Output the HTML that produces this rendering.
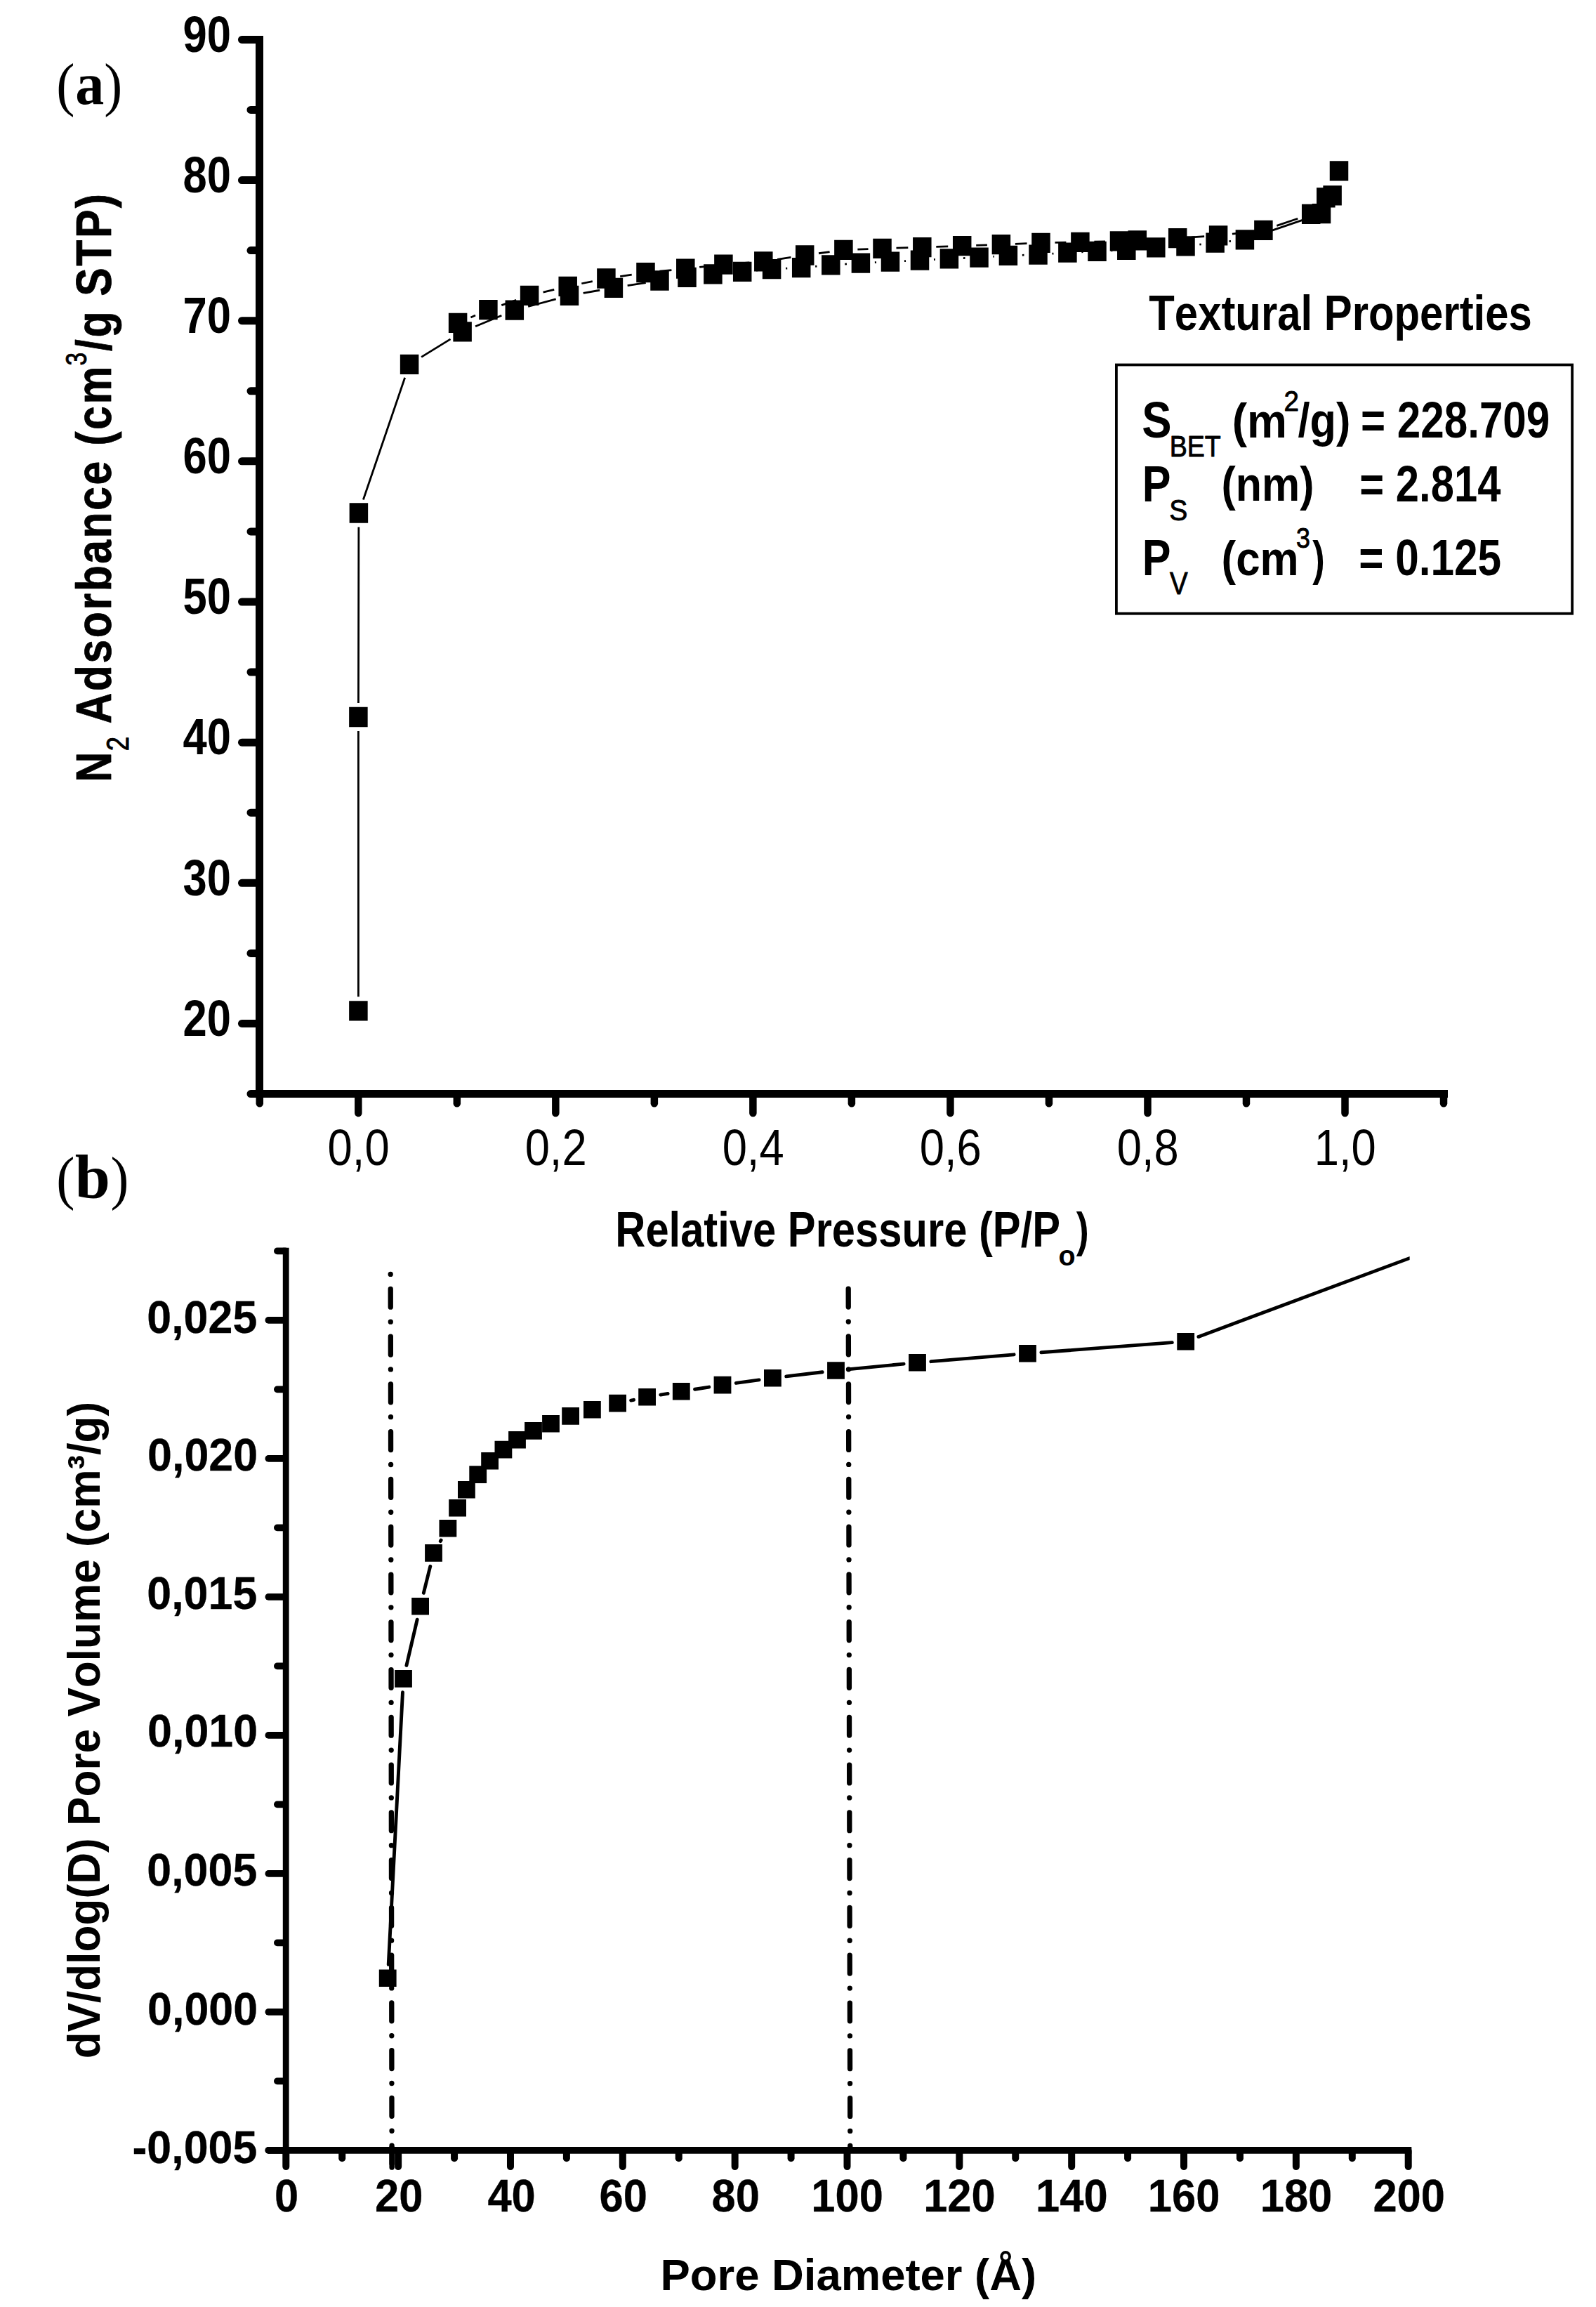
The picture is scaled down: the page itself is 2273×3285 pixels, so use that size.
<!DOCTYPE html>
<html lang="en"><head><meta charset="utf-8"><title>N2 adsorption isotherm and pore size distribution</title>
<style>html,body{margin:0;padding:0;background:#fff}svg text{fill:#000;font-kerning:none;font-variant-ligatures:none}</style></head>
<body>
<svg width="2273" height="3285" viewBox="0 0 2273 3285" style="display:block">
<rect width="2273" height="3285" fill="#fff"/>
<g id="panel-a">
<line x1="369.50" y1="50.90" x2="369.50" y2="1563.10" stroke="#000" stroke-width="11" stroke-linecap="butt"/>
<line x1="364.00" y1="1557.60" x2="2062.00" y2="1557.60" stroke="#000" stroke-width="11" stroke-linecap="butt"/>
<line x1="344.50" y1="1457.45" x2="368.50" y2="1457.45" stroke="#000" stroke-width="11" stroke-linecap="round"/>
<line x1="344.50" y1="1257.30" x2="368.50" y2="1257.30" stroke="#000" stroke-width="11" stroke-linecap="round"/>
<line x1="344.50" y1="1057.15" x2="368.50" y2="1057.15" stroke="#000" stroke-width="11" stroke-linecap="round"/>
<line x1="344.50" y1="857.00" x2="368.50" y2="857.00" stroke="#000" stroke-width="11" stroke-linecap="round"/>
<line x1="344.50" y1="656.85" x2="368.50" y2="656.85" stroke="#000" stroke-width="11" stroke-linecap="round"/>
<line x1="344.50" y1="456.70" x2="368.50" y2="456.70" stroke="#000" stroke-width="11" stroke-linecap="round"/>
<line x1="344.50" y1="256.55" x2="368.50" y2="256.55" stroke="#000" stroke-width="11" stroke-linecap="round"/>
<line x1="344.50" y1="56.40" x2="368.50" y2="56.40" stroke="#000" stroke-width="11" stroke-linecap="round"/>
<line x1="357.00" y1="1557.53" x2="368.50" y2="1557.53" stroke="#000" stroke-width="11" stroke-linecap="round"/>
<line x1="357.00" y1="1357.38" x2="368.50" y2="1357.38" stroke="#000" stroke-width="11" stroke-linecap="round"/>
<line x1="357.00" y1="1157.23" x2="368.50" y2="1157.23" stroke="#000" stroke-width="11" stroke-linecap="round"/>
<line x1="357.00" y1="957.08" x2="368.50" y2="957.08" stroke="#000" stroke-width="11" stroke-linecap="round"/>
<line x1="357.00" y1="756.92" x2="368.50" y2="756.92" stroke="#000" stroke-width="11" stroke-linecap="round"/>
<line x1="357.00" y1="556.77" x2="368.50" y2="556.77" stroke="#000" stroke-width="11" stroke-linecap="round"/>
<line x1="357.00" y1="356.62" x2="368.50" y2="356.62" stroke="#000" stroke-width="11" stroke-linecap="round"/>
<line x1="357.00" y1="156.47" x2="368.50" y2="156.47" stroke="#000" stroke-width="11" stroke-linecap="round"/>
<line x1="510.30" y1="1558.60" x2="510.30" y2="1585.00" stroke="#000" stroke-width="10.5" stroke-linecap="round"/>
<line x1="791.34" y1="1558.60" x2="791.34" y2="1585.00" stroke="#000" stroke-width="10.5" stroke-linecap="round"/>
<line x1="1072.38" y1="1558.60" x2="1072.38" y2="1585.00" stroke="#000" stroke-width="10.5" stroke-linecap="round"/>
<line x1="1353.42" y1="1558.60" x2="1353.42" y2="1585.00" stroke="#000" stroke-width="10.5" stroke-linecap="round"/>
<line x1="1634.46" y1="1558.60" x2="1634.46" y2="1585.00" stroke="#000" stroke-width="10.5" stroke-linecap="round"/>
<line x1="1915.50" y1="1558.60" x2="1915.50" y2="1585.00" stroke="#000" stroke-width="10.5" stroke-linecap="round"/>
<line x1="369.78" y1="1558.60" x2="369.78" y2="1571.30" stroke="#000" stroke-width="10.5" stroke-linecap="round"/>
<line x1="650.82" y1="1558.60" x2="650.82" y2="1571.30" stroke="#000" stroke-width="10.5" stroke-linecap="round"/>
<line x1="931.86" y1="1558.60" x2="931.86" y2="1571.30" stroke="#000" stroke-width="10.5" stroke-linecap="round"/>
<line x1="1212.90" y1="1558.60" x2="1212.90" y2="1571.30" stroke="#000" stroke-width="10.5" stroke-linecap="round"/>
<line x1="1493.94" y1="1558.60" x2="1493.94" y2="1571.30" stroke="#000" stroke-width="10.5" stroke-linecap="round"/>
<line x1="1774.98" y1="1558.60" x2="1774.98" y2="1571.30" stroke="#000" stroke-width="10.5" stroke-linecap="round"/>
<line x1="2056.02" y1="1558.60" x2="2056.02" y2="1571.30" stroke="#000" stroke-width="10.5" stroke-linecap="round"/>
<text transform="translate(260.45,1474.73) scale(0.8538,1)" font-size="72.08" font-weight="bold" font-family='"Liberation Sans", Arial, sans-serif'>20</text>
<text transform="translate(260.45,1274.58) scale(0.8538,1)" font-size="72.08" font-weight="bold" font-family='"Liberation Sans", Arial, sans-serif'>30</text>
<text transform="translate(260.45,1074.43) scale(0.8538,1)" font-size="72.08" font-weight="bold" font-family='"Liberation Sans", Arial, sans-serif'>40</text>
<text transform="translate(260.45,874.28) scale(0.8538,1)" font-size="72.08" font-weight="bold" font-family='"Liberation Sans", Arial, sans-serif'>50</text>
<text transform="translate(260.45,674.13) scale(0.8538,1)" font-size="72.08" font-weight="bold" font-family='"Liberation Sans", Arial, sans-serif'>60</text>
<text transform="translate(260.45,473.98) scale(0.8538,1)" font-size="72.08" font-weight="bold" font-family='"Liberation Sans", Arial, sans-serif'>70</text>
<text transform="translate(260.45,273.83) scale(0.8538,1)" font-size="72.08" font-weight="bold" font-family='"Liberation Sans", Arial, sans-serif'>80</text>
<text transform="translate(260.45,73.68) scale(0.8538,1)" font-size="72.08" font-weight="bold" font-family='"Liberation Sans", Arial, sans-serif'>90</text>
<text transform="translate(466.59,1658.60) scale(0.8732,1)" font-size="72.51" font-weight="normal" font-family='"Liberation Sans", Arial, sans-serif'>0,0</text>
<text transform="translate(747.63,1658.60) scale(0.8732,1)" font-size="72.51" font-weight="normal" font-family='"Liberation Sans", Arial, sans-serif'>0,2</text>
<text transform="translate(1028.67,1658.60) scale(0.8732,1)" font-size="72.51" font-weight="normal" font-family='"Liberation Sans", Arial, sans-serif'>0,4</text>
<text transform="translate(1309.71,1658.60) scale(0.8732,1)" font-size="72.51" font-weight="normal" font-family='"Liberation Sans", Arial, sans-serif'>0,6</text>
<text transform="translate(1590.75,1658.60) scale(0.8732,1)" font-size="72.51" font-weight="normal" font-family='"Liberation Sans", Arial, sans-serif'>0,8</text>
<text transform="translate(1871.79,1658.60) scale(0.8732,1)" font-size="72.51" font-weight="normal" font-family='"Liberation Sans", Arial, sans-serif'>1,0</text>
<text transform="translate(876.27,1774.90) scale(0.8551,1)" font-size="69.83" font-weight="bold" font-family='"Liberation Sans", Arial, sans-serif'>Relative Pressure (P/P</text>
<text transform="translate(1507.42,1801.69) scale(0.9726,1)" font-size="40.55" font-weight="bold" font-family='"Liberation Sans", Arial, sans-serif'>o</text>
<text transform="translate(1532.87,1774.74) scale(0.7845,1)" font-size="68.74" font-weight="bold" font-family='"Liberation Sans", Arial, sans-serif'>)</text>
<text transform="translate(157.80,1113.81) rotate(-90) scale(0.8524,1)" font-size="69.69" font-weight="bold" font-family='"Liberation Sans", Arial, sans-serif' stroke="#000" stroke-width="0.8" stroke-linejoin="round">N</text>
<text transform="translate(182.70,1069.14) rotate(-90) scale(0.8285,1)" font-size="44.30" font-weight="normal" font-family='"Liberation Sans", Arial, sans-serif' stroke="#000" stroke-width="0.9" stroke-linejoin="round">2</text>
<text transform="translate(157.80,1030.52) rotate(-90) scale(0.8700,1)" font-size="69.69" font-weight="bold" font-family='"Liberation Sans", Arial, sans-serif' stroke="#000" stroke-width="0.8" stroke-linejoin="round" letter-spacing="2.997">Adsorbance (cm</text>
<text transform="translate(123.38,520.46) rotate(-90) scale(0.7921,1)" font-size="42.26" font-weight="normal" font-family='"Liberation Sans", Arial, sans-serif' stroke="#000" stroke-width="0.9" stroke-linejoin="round">3</text>
<text transform="translate(157.80,499.91) rotate(-90) scale(0.8700,1)" font-size="69.69" font-weight="bold" font-family='"Liberation Sans", Arial, sans-serif' stroke="#000" stroke-width="0.8" stroke-linejoin="round" letter-spacing="2.904">/g STP)</text>
<text transform="translate(80.25,148.90) scale(0.9254,1)" font-size="85.18" font-weight="normal" font-family='"Liberation Serif", "Times New Roman", serif'>(</text>
<text transform="translate(107.13,148.16) scale(0.9816,1)" font-size="83.75" font-weight="bold" font-family='"Liberation Serif", "Times New Roman", serif'>a</text>
<text transform="translate(148.36,148.90) scale(0.9164,1)" font-size="85.18" font-weight="normal" font-family='"Liberation Serif", "Times New Roman", serif'>)</text>
<path d="M510.40,1419.30L510.40,1041.00M510.43,1001.00L510.87,750.50M517.36,711.57L576.64,537.73M600.14,508.33L641.56,482.87M677.07,464.73L714.33,449.27M752.13,436.46L791.67,425.94M830.70,417.35L854.20,413.25M893.66,406.70L919.74,402.60M1035.33,388.68L1037.27,388.52M1077.12,385.04L1079.18,384.86M1119.08,382.15L1121.22,382.05M1161.12,379.30L1163.38,379.10M1203.26,376.03L1205.94,375.87M1245.88,373.65L1248.02,373.55M1287.98,371.65L1290.02,371.55M1329.97,369.55L1331.93,369.45M1371.88,367.56L1374.52,367.44M1414.46,365.30L1415.94,365.20M1455.89,363.29L1458.51,363.21M1498.45,361.17L1500.45,361.03M1540.38,358.75L1542.52,358.65M1582.48,356.84L1584.32,356.76M1624.23,354.19L1626.37,354.01M1666.28,351.45L1668.52,351.35M1708.38,348.18L1710.72,347.92M1750.50,343.68L1753.00,343.42M1791.83,334.95L1863.07,310.65" stroke="#000" stroke-width="2.8" stroke-linecap="butt" fill="none"/>
<path d="M1848.26,311.23L1818.34,321.37M1779.54,330.15L1754.96,333.05M1715.14,336.68L1697.16,337.82M1657.23,340.21L1639.77,341.19M1574.01,343.84L1558.39,344.26M1518.40,345.16L1502.50,345.44M1462.52,346.61L1445.88,347.29M1405.91,348.82L1390.19,349.38M1350.21,350.80L1333.29,351.40M1293.31,352.70L1276.49,353.20M1236.51,354.53L1221.39,355.07M1181.59,358.56L1166.01,360.74M1126.42,366.46L1107.08,369.34M1067.36,373.81L1050.34,375.09M1010.52,378.80L996.18,380.40M956.40,384.56L939.40,386.24M899.72,391.13L883.18,393.57M843.81,400.55L828.29,403.75M789.24,412.43L773.56,416.17M735.20,427.34L714.30,434.56M677.05,449.07L670.45,451.93" stroke="#000" stroke-width="2.8" stroke-linecap="butt" fill="none"/>
<path d="M497.15,1425.15h26.5v28.3h-26.5zM497.15,1006.85h26.5v28.3h-26.5zM497.65,716.35h26.5v28.3h-26.5zM569.85,504.65h26.5v28.3h-26.5zM645.35,458.25h26.5v28.3h-26.5zM719.55,427.45h26.5v28.3h-26.5zM797.75,406.65h26.5v28.3h-26.5zM860.65,395.65h26.5v28.3h-26.5zM926.25,385.35h26.5v28.3h-26.5zM965.25,380.75h26.5v28.3h-26.5zM1002.15,376.25h26.5v28.3h-26.5zM1043.95,372.65h26.5v28.3h-26.5zM1085.85,368.95h26.5v28.3h-26.5zM1127.95,366.95h26.5v28.3h-26.5zM1170.05,363.15h26.5v28.3h-26.5zM1212.65,360.45h26.5v28.3h-26.5zM1254.75,358.45h26.5v28.3h-26.5zM1296.75,356.45h26.5v28.3h-26.5zM1338.65,354.25h26.5v28.3h-26.5zM1381.25,352.45h26.5v28.3h-26.5zM1422.65,349.75h26.5v28.3h-26.5zM1465.25,348.45h26.5v28.3h-26.5zM1507.15,345.45h26.5v28.3h-26.5zM1549.25,343.65h26.5v28.3h-26.5zM1591.05,341.65h26.5v28.3h-26.5zM1633.05,338.25h26.5v28.3h-26.5zM1675.25,336.25h26.5v28.3h-26.5zM1717.35,331.55h26.5v28.3h-26.5zM1759.65,327.25h26.5v28.3h-26.5zM1868.75,290.05h26.5v28.3h-26.5zM1884.35,264.25h26.5v28.3h-26.5zM1893.75,229.25h26.5v28.3h-26.5zM1875.05,267.25h26.5v28.3h-26.5zM1853.95,290.65h26.5v28.3h-26.5zM1786.15,313.65h26.5v28.3h-26.5zM1721.85,321.25h26.5v28.3h-26.5zM1663.95,324.95h26.5v28.3h-26.5zM1606.55,328.15h26.5v28.3h-26.5zM1580.75,329.15h26.5v28.3h-26.5zM1525.15,330.65h26.5v28.3h-26.5zM1469.25,331.65h26.5v28.3h-26.5zM1412.65,333.95h26.5v28.3h-26.5zM1356.95,335.95h26.5v28.3h-26.5zM1300.05,337.95h26.5v28.3h-26.5zM1243.25,339.65h26.5v28.3h-26.5zM1188.15,341.65h26.5v28.3h-26.5zM1132.95,349.35h26.5v28.3h-26.5zM1074.05,358.15h26.5v28.3h-26.5zM1017.15,362.45h26.5v28.3h-26.5zM963.05,368.45h26.5v28.3h-26.5zM906.25,374.05h26.5v28.3h-26.5zM850.15,382.35h26.5v28.3h-26.5zM795.45,393.65h26.5v28.3h-26.5zM740.85,406.65h26.5v28.3h-26.5zM682.15,426.95h26.5v28.3h-26.5zM638.85,445.75h26.5v28.3h-26.5z" fill="#000"/>
<text transform="translate(1636.30,469.90) scale(0.8538,1)" font-size="70.11" font-weight="bold" font-family='"Liberation Sans", Arial, sans-serif'>Textural Properties</text>
<rect x="1589.9" y="519.5" width="649.2" height="354.2" fill="none" stroke="#000" stroke-width="3.8"/>
<text transform="translate(1626.30,623.18) scale(0.8765,1)" font-size="72.37" font-weight="bold" font-family='"Liberation Sans", Arial, sans-serif'>S</text>
<text transform="translate(1665.70,649.80) scale(0.8706,1)" font-size="43.20" font-weight="normal" font-family='"Liberation Sans", Arial, sans-serif' stroke="#000" stroke-width="0.9" stroke-linejoin="round">BET</text>
<text transform="translate(1754.70,622.69) scale(0.9289,1)" font-size="68.95" font-weight="bold" font-family='"Liberation Sans", Arial, sans-serif'>(m</text>
<text transform="translate(1828.57,585.10) scale(0.9567,1)" font-size="40.43" font-weight="normal" font-family='"Liberation Sans", Arial, sans-serif' stroke="#000" stroke-width="0.9" stroke-linejoin="round">2</text>
<text transform="translate(1848.59,622.43) scale(0.8937,1)" font-size="68.59" font-weight="bold" font-family='"Liberation Sans", Arial, sans-serif'>/g)</text>
<text transform="translate(1937.94,623.18) scale(0.8315,1)" font-size="72.37" font-weight="bold" font-family='"Liberation Sans", Arial, sans-serif'>= 228.709</text>
<text transform="translate(1626.78,714.10) scale(0.8396,1)" font-size="72.73" font-weight="bold" font-family='"Liberation Sans", Arial, sans-serif'>P</text>
<text transform="translate(1665.24,740.98) scale(0.9228,1)" font-size="42.40" font-weight="normal" font-family='"Liberation Sans", Arial, sans-serif' stroke="#000" stroke-width="0.9" stroke-linejoin="round">S</text>
<text transform="translate(1739.55,713.44) scale(0.8862,1)" font-size="68.74" font-weight="bold" font-family='"Liberation Sans", Arial, sans-serif'>(nm)</text>
<text transform="translate(1936.36,714.08) scale(0.8339,1)" font-size="71.66" font-weight="bold" font-family='"Liberation Sans", Arial, sans-serif'>= 2.814</text>
<text transform="translate(1626.78,819.20) scale(0.8346,1)" font-size="73.16" font-weight="bold" font-family='"Liberation Sans", Arial, sans-serif'>P</text>
<text transform="translate(1665.91,846.10) scale(0.8674,1)" font-size="44.36" font-weight="normal" font-family='"Liberation Sans", Arial, sans-serif' stroke="#000" stroke-width="0.9" stroke-linejoin="round">V</text>
<text transform="translate(1739.50,818.58) scale(0.9040,1)" font-size="68.53" font-weight="bold" font-family='"Liberation Sans", Arial, sans-serif'>(cm</text>
<text transform="translate(1846.06,780.49) scale(0.8762,1)" font-size="40.85" font-weight="normal" font-family='"Liberation Sans", Arial, sans-serif' stroke="#000" stroke-width="0.9" stroke-linejoin="round">3</text>
<text transform="translate(1869.37,818.58) scale(0.7661,1)" font-size="68.53" font-weight="bold" font-family='"Liberation Sans", Arial, sans-serif'>)</text>
<text transform="translate(1935.24,819.47) scale(0.8315,1)" font-size="72.51" font-weight="bold" font-family='"Liberation Sans", Arial, sans-serif'>= 0.125</text>
</g>
<g id="panel-b">
<line x1="407.20" y1="1776.70" x2="407.20" y2="3066.70" stroke="#000" stroke-width="8.8" stroke-linecap="butt"/>
<line x1="382.30" y1="3061.90" x2="2010.30" y2="3061.90" stroke="#000" stroke-width="9.6" stroke-linecap="butt"/>
<circle cx="382.3" cy="3061.90" r="4.8" fill="#000"/>
<line x1="382.30" y1="1879.90" x2="406.20" y2="1879.90" stroke="#000" stroke-width="9.6" stroke-linecap="round"/>
<line x1="382.30" y1="2076.90" x2="406.20" y2="2076.90" stroke="#000" stroke-width="9.6" stroke-linecap="round"/>
<line x1="382.30" y1="2273.90" x2="406.20" y2="2273.90" stroke="#000" stroke-width="9.6" stroke-linecap="round"/>
<line x1="382.30" y1="2470.90" x2="406.20" y2="2470.90" stroke="#000" stroke-width="9.6" stroke-linecap="round"/>
<line x1="382.30" y1="2667.90" x2="406.20" y2="2667.90" stroke="#000" stroke-width="9.6" stroke-linecap="round"/>
<line x1="382.30" y1="2864.90" x2="406.20" y2="2864.90" stroke="#000" stroke-width="9.6" stroke-linecap="round"/>
<line x1="382.30" y1="3061.90" x2="406.20" y2="3061.90" stroke="#000" stroke-width="9.6" stroke-linecap="round"/>
<line x1="394.80" y1="1781.40" x2="406.20" y2="1781.40" stroke="#000" stroke-width="9.6" stroke-linecap="round"/>
<line x1="394.80" y1="1978.40" x2="406.20" y2="1978.40" stroke="#000" stroke-width="9.6" stroke-linecap="round"/>
<line x1="394.80" y1="2175.40" x2="406.20" y2="2175.40" stroke="#000" stroke-width="9.6" stroke-linecap="round"/>
<line x1="394.80" y1="2372.40" x2="406.20" y2="2372.40" stroke="#000" stroke-width="9.6" stroke-linecap="round"/>
<line x1="394.80" y1="2569.40" x2="406.20" y2="2569.40" stroke="#000" stroke-width="9.6" stroke-linecap="round"/>
<line x1="394.80" y1="2766.40" x2="406.20" y2="2766.40" stroke="#000" stroke-width="9.6" stroke-linecap="round"/>
<line x1="394.80" y1="2963.40" x2="406.20" y2="2963.40" stroke="#000" stroke-width="9.6" stroke-linecap="round"/>
<line x1="407.30" y1="3062.90" x2="407.30" y2="3085.10" stroke="#000" stroke-width="10.0" stroke-linecap="round"/>
<line x1="567.14" y1="3062.90" x2="567.14" y2="3085.10" stroke="#000" stroke-width="10.0" stroke-linecap="round"/>
<line x1="726.98" y1="3062.90" x2="726.98" y2="3085.10" stroke="#000" stroke-width="10.0" stroke-linecap="round"/>
<line x1="886.82" y1="3062.90" x2="886.82" y2="3085.10" stroke="#000" stroke-width="10.0" stroke-linecap="round"/>
<line x1="1046.66" y1="3062.90" x2="1046.66" y2="3085.10" stroke="#000" stroke-width="10.0" stroke-linecap="round"/>
<line x1="1206.50" y1="3062.90" x2="1206.50" y2="3085.10" stroke="#000" stroke-width="10.0" stroke-linecap="round"/>
<line x1="1366.34" y1="3062.90" x2="1366.34" y2="3085.10" stroke="#000" stroke-width="10.0" stroke-linecap="round"/>
<line x1="1526.18" y1="3062.90" x2="1526.18" y2="3085.10" stroke="#000" stroke-width="10.0" stroke-linecap="round"/>
<line x1="1686.02" y1="3062.90" x2="1686.02" y2="3085.10" stroke="#000" stroke-width="10.0" stroke-linecap="round"/>
<line x1="1845.86" y1="3062.90" x2="1845.86" y2="3085.10" stroke="#000" stroke-width="10.0" stroke-linecap="round"/>
<line x1="2005.70" y1="3062.90" x2="2005.70" y2="3085.10" stroke="#000" stroke-width="10.0" stroke-linecap="round"/>
<line x1="487.22" y1="3062.90" x2="487.22" y2="3073.30" stroke="#000" stroke-width="10.0" stroke-linecap="round"/>
<line x1="647.06" y1="3062.90" x2="647.06" y2="3073.30" stroke="#000" stroke-width="10.0" stroke-linecap="round"/>
<line x1="806.90" y1="3062.90" x2="806.90" y2="3073.30" stroke="#000" stroke-width="10.0" stroke-linecap="round"/>
<line x1="966.74" y1="3062.90" x2="966.74" y2="3073.30" stroke="#000" stroke-width="10.0" stroke-linecap="round"/>
<line x1="1126.58" y1="3062.90" x2="1126.58" y2="3073.30" stroke="#000" stroke-width="10.0" stroke-linecap="round"/>
<line x1="1286.42" y1="3062.90" x2="1286.42" y2="3073.30" stroke="#000" stroke-width="10.0" stroke-linecap="round"/>
<line x1="1446.26" y1="3062.90" x2="1446.26" y2="3073.30" stroke="#000" stroke-width="10.0" stroke-linecap="round"/>
<line x1="1606.10" y1="3062.90" x2="1606.10" y2="3073.30" stroke="#000" stroke-width="10.0" stroke-linecap="round"/>
<line x1="1765.94" y1="3062.90" x2="1765.94" y2="3073.30" stroke="#000" stroke-width="10.0" stroke-linecap="round"/>
<line x1="1925.78" y1="3062.90" x2="1925.78" y2="3073.30" stroke="#000" stroke-width="10.0" stroke-linecap="round"/>
<text transform="translate(209.29,1897.70) scale(0.9651,1)" font-size="65.02" font-weight="bold" font-family='"Liberation Sans", Arial, sans-serif' stroke="#000" stroke-width="0.3" stroke-linejoin="round">0,025</text>
<text transform="translate(210.07,2094.10) scale(0.9651,1)" font-size="65.02" font-weight="bold" font-family='"Liberation Sans", Arial, sans-serif' stroke="#000" stroke-width="0.3" stroke-linejoin="round">0,020</text>
<text transform="translate(209.29,2291.30) scale(0.9651,1)" font-size="65.02" font-weight="bold" font-family='"Liberation Sans", Arial, sans-serif' stroke="#000" stroke-width="0.3" stroke-linejoin="round">0,015</text>
<text transform="translate(210.07,2487.00) scale(0.9651,1)" font-size="65.02" font-weight="bold" font-family='"Liberation Sans", Arial, sans-serif' stroke="#000" stroke-width="0.3" stroke-linejoin="round">0,010</text>
<text transform="translate(209.29,2684.90) scale(0.9651,1)" font-size="65.02" font-weight="bold" font-family='"Liberation Sans", Arial, sans-serif' stroke="#000" stroke-width="0.3" stroke-linejoin="round">0,005</text>
<text transform="translate(210.07,2882.80) scale(0.9651,1)" font-size="65.02" font-weight="bold" font-family='"Liberation Sans", Arial, sans-serif' stroke="#000" stroke-width="0.3" stroke-linejoin="round">0,000</text>
<text transform="translate(188.43,3079.55) scale(0.9651,1)" font-size="65.02" font-weight="bold" font-family='"Liberation Sans", Arial, sans-serif' stroke="#000" stroke-width="0.3" stroke-linejoin="round">-0,005</text>
<text transform="translate(391.04,3148.86) scale(0.9562,1)" font-size="64.31" font-weight="bold" font-family='"Liberation Sans", Arial, sans-serif' stroke="#000" stroke-width="0.3" stroke-linejoin="round">0</text>
<text transform="translate(533.96,3148.86) scale(0.9562,1)" font-size="64.31" font-weight="bold" font-family='"Liberation Sans", Arial, sans-serif' stroke="#000" stroke-width="0.3" stroke-linejoin="round">20</text>
<text transform="translate(694.42,3148.86) scale(0.9562,1)" font-size="64.31" font-weight="bold" font-family='"Liberation Sans", Arial, sans-serif' stroke="#000" stroke-width="0.3" stroke-linejoin="round">40</text>
<text transform="translate(853.57,3148.86) scale(0.9562,1)" font-size="64.31" font-weight="bold" font-family='"Liberation Sans", Arial, sans-serif' stroke="#000" stroke-width="0.3" stroke-linejoin="round">60</text>
<text transform="translate(1013.56,3148.86) scale(0.9562,1)" font-size="64.31" font-weight="bold" font-family='"Liberation Sans", Arial, sans-serif' stroke="#000" stroke-width="0.3" stroke-linejoin="round">80</text>
<text transform="translate(1155.34,3148.86) scale(0.9562,1)" font-size="64.31" font-weight="bold" font-family='"Liberation Sans", Arial, sans-serif' stroke="#000" stroke-width="0.3" stroke-linejoin="round">100</text>
<text transform="translate(1315.18,3148.86) scale(0.9562,1)" font-size="64.31" font-weight="bold" font-family='"Liberation Sans", Arial, sans-serif' stroke="#000" stroke-width="0.3" stroke-linejoin="round">120</text>
<text transform="translate(1475.02,3148.86) scale(0.9562,1)" font-size="64.31" font-weight="bold" font-family='"Liberation Sans", Arial, sans-serif' stroke="#000" stroke-width="0.3" stroke-linejoin="round">140</text>
<text transform="translate(1634.86,3148.86) scale(0.9562,1)" font-size="64.31" font-weight="bold" font-family='"Liberation Sans", Arial, sans-serif' stroke="#000" stroke-width="0.3" stroke-linejoin="round">160</text>
<text transform="translate(1794.70,3148.86) scale(0.9562,1)" font-size="64.31" font-weight="bold" font-family='"Liberation Sans", Arial, sans-serif' stroke="#000" stroke-width="0.3" stroke-linejoin="round">180</text>
<text transform="translate(1955.38,3148.86) scale(0.9562,1)" font-size="64.31" font-weight="bold" font-family='"Liberation Sans", Arial, sans-serif' stroke="#000" stroke-width="0.3" stroke-linejoin="round">200</text>
<text transform="translate(940.42,3260.80) scale(1.0161,1)" font-size="62.43" font-weight="bold" font-family='"Liberation Sans", Arial, sans-serif'>Pore Diameter (Å)</text>
<text transform="translate(142.00,2931.29) rotate(-90) scale(0.9651,1)" font-size="64.39" font-weight="bold" font-family='"Liberation Sans", Arial, sans-serif'>dV/dlog(D) Pore Volume (cm³/g)</text>
<text transform="translate(80.25,1705.92) scale(0.9266,1)" font-size="85.07" font-weight="normal" font-family='"Liberation Serif", "Times New Roman", serif'>(</text>
<text transform="translate(106.77,1706.12) scale(1.0218,1)" font-size="88.23" font-weight="bold" font-family='"Liberation Serif", "Times New Roman", serif'>b</text>
<text transform="translate(157.48,1705.92) scale(0.9130,1)" font-size="85.07" font-weight="normal" font-family='"Liberation Serif", "Times New Roman", serif'>)</text>
<path d="M556.2,1814.4L558.1,3087" stroke="#000" stroke-width="7.3" stroke-linecap="round" stroke-dasharray="0.01 21.0 25.8 20.96" fill="none"/>
<path d="M1208.2,1835.2L1210.8,3060" stroke="#000" stroke-width="7.3" stroke-linecap="round" stroke-dasharray="25.8 21.0 0.01 20.98" fill="none"/>
<line x1="558.06" y1="3058.00" x2="558.10" y2="3086.20" stroke="#000" stroke-width="7.3" stroke-linecap="round"/>
<path d="M553.22,2797.38L573.48,2409.82M578.92,2371.46L594.18,2306.14M603.31,2268.33L612.79,2230.27M627.25,2194.57L628.15,2193.03M898.64,1994.11L902.56,1993.29M940.79,1986.11L951.11,1984.39M989.52,1978.22L1009.78,1975.08M1048.27,1969.43L1081.13,1964.87M1119.71,1959.91L1171.19,1953.79M1209.86,1949.63L1287.14,1942.17M1325.88,1938.68L1444.12,1928.82M1482.89,1925.74L1669.31,1911.66" stroke="#000" stroke-width="4.9" stroke-linecap="round" fill="none"/>
<path d="M1707.69,1905.75L2007.6,1794.11L2007.6,1788.89L1705.98,1901.15z" fill="#000"/>
<circle cx="1706.83" cy="1903.45" r="2.45" fill="#000"/>
<path d="M539.80,2804.50h24.8v24.6h-24.8zM562.10,2378.10h24.8v24.6h-24.8zM586.20,2274.90h24.8v24.6h-24.8zM605.10,2199.10h24.8v24.6h-24.8zM625.50,2163.90h24.8v24.6h-24.8zM639.20,2135.00h24.8v24.6h-24.8zM652.00,2109.00h24.8v24.6h-24.8zM668.30,2087.30h24.8v24.6h-24.8zM685.20,2068.00h24.8v24.6h-24.8zM704.50,2051.80h24.8v24.6h-24.8zM724.10,2037.90h24.8v24.6h-24.8zM747.10,2025.10h24.8v24.6h-24.8zM772.10,2014.90h24.8v24.6h-24.8zM800.20,2004.10h24.8v24.6h-24.8zM831.00,1995.00h24.8v24.6h-24.8zM867.20,1985.80h24.8v24.6h-24.8zM909.20,1977.00h24.8v24.6h-24.8zM957.90,1968.90h24.8v24.6h-24.8zM1016.60,1959.80h24.8v24.6h-24.8zM1088.00,1949.90h24.8v24.6h-24.8zM1178.10,1939.20h24.8v24.6h-24.8zM1294.10,1928.00h24.8v24.6h-24.8zM1451.10,1914.90h24.8v24.6h-24.8zM1676.30,1897.90h24.8v24.6h-24.8z" fill="#000"/>
</g>
</svg>
</body></html>
